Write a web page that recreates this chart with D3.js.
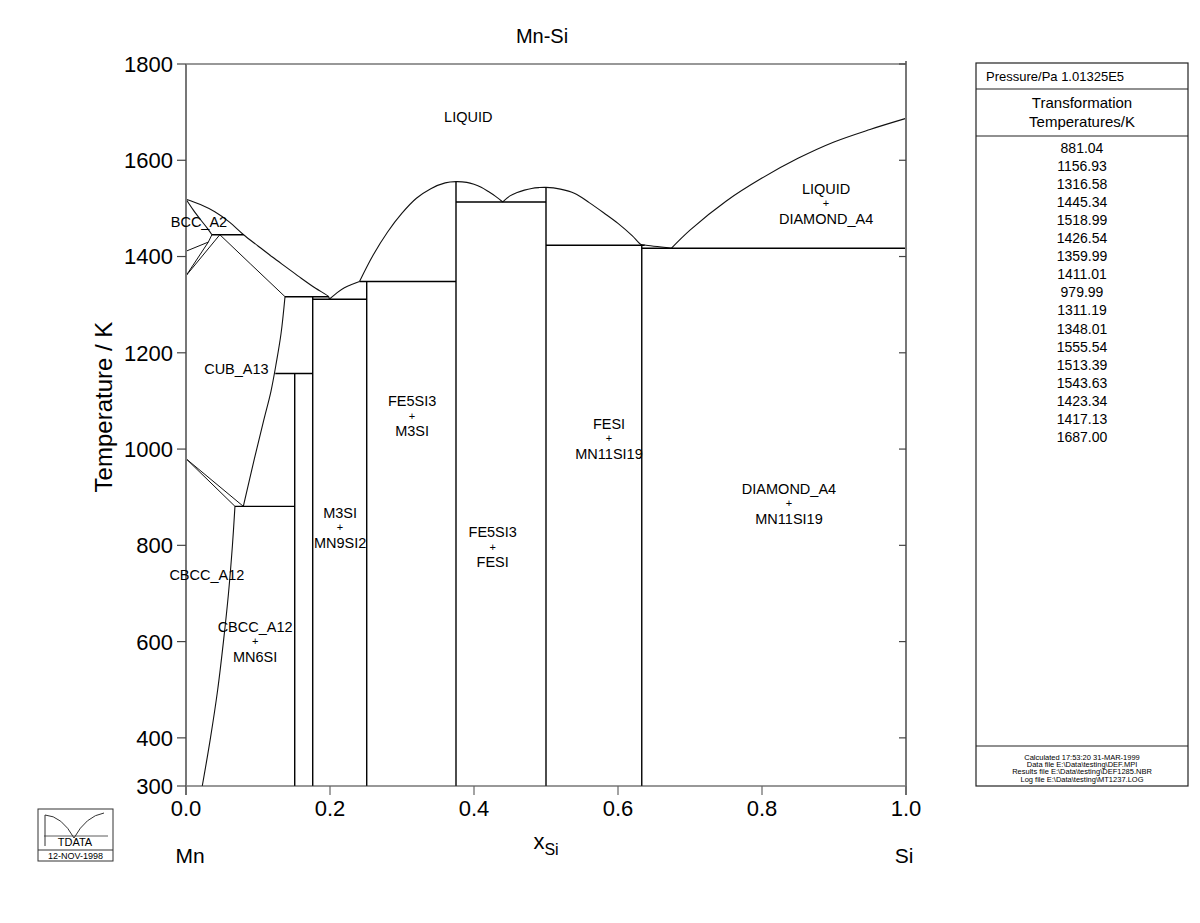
<!DOCTYPE html>
<html><head><meta charset="utf-8">
<script src="https://cdn.jsdelivr.net/npm/d3@7"></script>
<style>
body{margin:0;background:#fff}
svg{display:block}
text{font-family:"Liberation Sans",Arial,Helvetica,sans-serif;fill:#000}
</style>
</head><body>
<svg id="chart" width="1200" height="923"></svg>
<script>
// ---------- DATA ----------
const xTicks = [0, 0.2, 0.4, 0.6, 0.8, 1.0];
const yTicks = [300, 400, 600, 800, 1000, 1200, 1400, 1600, 1800];
const transformationTemps = ["881.04","1156.93","1316.58","1445.34","1518.99","1426.54","1359.99","1411.01","979.99","1311.19","1348.01","1555.54","1513.39","1543.63","1423.34","1417.13","1687.00"];
const footerLines = ["Calculated  17:53:20  31-MAR-1999","Data file  E:\\Data\\testing\\DEF.MPI","Results file  E:\\Data\\testing\\DEF1285.NBR","Log file  E:\\Data\\testing\\MT1237.LOG"];

// phase boundaries [x_Si, T/K]
const liquidusMnSide = [[0,1518.99],[0.02,1508],[0.04,1493],[0.06,1472],[0.08,1445.34],[0.10,1422],[0.12,1399],[0.14,1377],[0.16,1355],[0.18,1334],[0.198,1316.58],[0.199,1311.19]];
const liquidusM3Si = [[0.199,1311.19],[0.21,1325],[0.22,1335],[0.23,1342],[0.241,1348.01]];
const liquidusMn5Si3 = [[0.241,1348.01],[0.26,1403],[0.28,1451],[0.30,1490],[0.32,1521],[0.34,1541],[0.36,1553],[0.375,1555.54],[0.39,1554],[0.40,1550],[0.41,1544],[0.42,1535],[0.43,1525],[0.44,1513.39]];
const liquidusMnSi = [[0.44,1513.39],[0.45,1526],[0.46,1533],[0.47,1538],[0.48,1541.5],[0.49,1543.2],[0.5,1543.63],[0.52,1540],[0.54,1531],[0.56,1512],[0.58,1491],[0.60,1469],[0.62,1443],[0.632,1425],[0.637,1423.8],[0.674,1417.13]];
const liquidusSi = [[0.674,1417.13],[0.70,1455],[0.75,1515],[0.80,1563],[0.85,1604],[0.90,1638],[0.95,1664],[1.0,1687]];
const bccSolidus = [[0,1518.99],[0.01,1497],[0.02,1477],[0.03,1458],[0.036,1445.34]];
const bccBoundary = [[0,1411.01],[0.031,1430],[0.036,1445.34]];
const fccBoundary = [[0,1359.99],[0.031,1430]];
const cubUpper = [[0,1359.99],[0.047,1445.34]];
const cubSolidus = [[0.047,1445.34],[0.09,1384],[0.1375,1316.58]];
const cubLowerA = [[0,979.99],[0.068,881.04]];
const cubLowerB = [[0,979.99],[0.0796,881.04]];
const cbccSolvus = [[0.0226,300],[0.034,400],[0.044,500],[0.052,600],[0.059,700],[0.0645,800],[0.068,881.04]];
const cubSolvus = [[0.0796,881.04],[0.095,980],[0.108,1060],[0.118,1120],[0.1255,1180],[0.132,1240],[0.1375,1316.58]];
// invariant (horizontal) lines: [T, x_from, x_to]
const invariantLines = [[881.04,0.068,0.151],[1156.93,0.124,0.176],[1316.58,0.1375,0.198],[1311.19,0.176,0.251],[1348.01,0.241,0.375],[1445.34,0.036,0.080],[1513.39,0.375,0.5],[1423.34,0.5,0.637],[1417.13,0.633,1.0]];
// stoichiometric compounds: [x_Si, top T]
const compoundLines = [[0.151,1156.93],[0.176,1316.58],[0.251,1348.01],[0.375,1555.54],[0.5,1543.63],[0.633,1423.34]];

// region labels
const singleLabels = [["LIQUID",0.392,1690],["BCC_A2",0.018,1472],["CUB_A13",0.070,1166],["CBCC_A12",0.029,738]];
const twoPhaseLabels = [["CBCC_A12","MN6SI",0.096,600],["M3SI","MN9SI2",0.214,838],["FE5SI3","M3SI",0.314,1069],["FE5SI3","FESI",0.426,797],["FESI","MN11SI19",0.5875,1023],["DIAMOND_A4","MN11SI19",0.8375,888],["LIQUID","DIAMOND_A4",0.889,1511]];

// ---------- DRAW ----------
const svg = d3.select("#chart");
const L = 186, R = 906, T = 64, B = 786;
const x = d3.scaleLinear().domain([0,1]).range([L,R]);
const y = d3.scaleLinear().domain([300,1800]).range([B,T]);

const g = svg.append("g");
const lineGen = d3.line().x(d=>x(d[0])).y(d=>y(d[1])).curve(d3.curveCatmullRom.alpha(0.5));
const straight = d3.line().x(d=>x(d[0])).y(d=>y(d[1]));

[liquidusMnSide, liquidusM3Si, liquidusMn5Si3, liquidusMnSi, liquidusSi, bccSolidus, cbccSolvus, cubSolvus].forEach(c=>{
  g.append("path").attr("d", lineGen(c)).attr("fill","none").attr("stroke","#111").attr("stroke-width",1.1);
});
[bccBoundary, fccBoundary, cubUpper, cubSolidus, cubLowerA, cubLowerB].forEach(c=>{
  g.append("path").attr("d", straight(c)).attr("fill","none").attr("stroke","#111").attr("stroke-width",1);
});
invariantLines.forEach(d=>{
  g.append("path").attr("d", straight([[d[1],d[0]],[d[2],d[0]]])).attr("fill","none").attr("stroke","#000").attr("stroke-width",1.4);
});
compoundLines.forEach(d=>{
  g.append("path").attr("d", straight([[d[0],300],[d[0],d[1]]])).attr("fill","none").attr("stroke","#000").attr("stroke-width",1.4);
});

// frame
svg.append("line").attr("x1",L).attr("x2",R).attr("y1",T).attr("y2",T).attr("stroke","#333").attr("stroke-width",1.2);
svg.append("line").attr("x1",L).attr("x2",R).attr("y1",B).attr("y2",B).attr("stroke","#333").attr("stroke-width",1.2);
svg.append("line").attr("x1",L).attr("x2",L).attr("y1",T).attr("y2",B+9).attr("stroke","#777").attr("stroke-width",2);
svg.append("line").attr("x1",R).attr("x2",R).attr("y1",T-3).attr("y2",B+9).attr("stroke","#777").attr("stroke-width",2);

// y ticks
const yAxis = svg.append("g");
yTicks.forEach(t=>{
  yAxis.append("line").attr("x1",L-9).attr("x2",L).attr("y1",y(t)).attr("y2",y(t)).attr("stroke","#444").attr("stroke-width",1.2);
  if (t !== 300) yAxis.append("line").attr("x1",R-7).attr("x2",R).attr("y1",y(t)).attr("y2",y(t)).attr("stroke","#444").attr("stroke-width",1.2);
  yAxis.append("text").attr("x",L-13).attr("y",y(t)).attr("dy","0.36em").attr("text-anchor","end").style("font-size","22px").text(t);
});
// x ticks
xTicks.forEach(t=>{
  svg.append("line").attr("x1",x(t)).attr("x2",x(t)).attr("y1",B).attr("y2",B+9).attr("stroke","#666").attr("stroke-width",1.2);
  svg.append("text").attr("x",x(t)).attr("y",816).attr("text-anchor","middle").style("font-size","22px").text(d3.format(".1f")(t));
});

// titles
svg.append("text").attr("x",x(0.5)-4).attr("y",43).attr("text-anchor","middle").style("font-size","20px").text("Mn-Si");
svg.append("text").attr("transform",`translate(112,${(T+B)/2-18}) rotate(-90)`).attr("text-anchor","middle").style("font-size","24px").text("Temperature / K");
const xl = svg.append("text").attr("x",x(0.5)).attr("y",849).attr("text-anchor","middle").style("font-size","22px");
xl.append("tspan").text("x");
xl.append("tspan").attr("dy",6).style("font-size","16px").text("Si");
svg.append("text").attr("x",x(0)+4).attr("y",863).attr("text-anchor","middle").style("font-size","21px").text("Mn");
svg.append("text").attr("x",x(1)-2).attr("y",863).attr("text-anchor","middle").style("font-size","21px").text("Si");

// region labels
singleLabels.forEach(d=>{
  svg.append("text").attr("x",x(d[1])).attr("y",y(d[2])).attr("dy","0.35em").attr("text-anchor","middle").style("font-size","14.5px").text(d[0]);
});
twoPhaseLabels.forEach(d=>{
  const cx = x(d[2]), cy = y(d[3]);
  svg.append("text").attr("x",cx).attr("y",cy-14.5).attr("dy","0.35em").attr("text-anchor","middle").style("font-size","14.5px").text(d[0]);
  svg.append("text").attr("x",cx).attr("y",cy).attr("dy","0.35em").attr("text-anchor","middle").style("font-size","11px").text("+");
  svg.append("text").attr("x",cx).attr("y",cy+15.5).attr("dy","0.35em").attr("text-anchor","middle").style("font-size","14.5px").text(d[1]);
});

// right panel
const PL = 976, PR = 1188, PT = 63, PB = 786;
const panel = svg.append("g");
panel.append("rect").attr("x",PL).attr("y",PT).attr("width",PR-PL).attr("height",PB-PT).attr("fill","none").attr("stroke","#222").attr("stroke-width",1.2);
[89,136,746].forEach(v=>panel.append("line").attr("x1",PL).attr("x2",PR).attr("y1",v).attr("y2",v).attr("stroke","#222").attr("stroke-width",1.2));
panel.append("text").attr("x",PL+10).attr("y",76).attr("dy","0.35em").style("font-size","13px").text("Pressure/Pa  1.01325E5");
panel.append("text").attr("x",(PL+PR)/2).attr("y",103).attr("dy","0.35em").attr("text-anchor","middle").style("font-size","15px").text("Transformation");
panel.append("text").attr("x",(PL+PR)/2).attr("y",122).attr("dy","0.35em").attr("text-anchor","middle").style("font-size","15px").text("Temperatures/K");
transformationTemps.forEach((t,i)=>{
  panel.append("text").attr("x",(PL+PR)/2).attr("y",148+i*18.06).attr("dy","0.35em").attr("text-anchor","middle").style("font-size","14px").text(t);
});
footerLines.forEach((t,i)=>{
  panel.append("text").attr("x",(PL+PR)/2).attr("y",757+i*7.3).attr("dy","0.35em").attr("text-anchor","middle").style("font-size","7.5px").text(t);
});

// logo
const lg = svg.append("g");
lg.append("rect").attr("x",38).attr("y",809).attr("width",75).attr("height",52).attr("fill","none").attr("stroke","#333").attr("stroke-width",1);
lg.append("line").attr("x1",38).attr("x2",113).attr("y1",850).attr("y2",850).attr("stroke","#333");
lg.append("path").attr("d","M45,846 L45,815 Q62,816 74,838 Q86,816 104,813").attr("fill","none").attr("stroke","#333").attr("stroke-width",1);
lg.append("line").attr("x1",44).attr("x2",108).attr("y1",836).attr("y2",836).attr("stroke","#333").attr("stroke-width",0.8);
lg.append("text").attr("x",75).attr("y",846).attr("text-anchor","middle").style("font-size","11px").text("TDATA");
lg.append("text").attr("x",75.5).attr("y",859).attr("text-anchor","middle").style("font-size","9px").text("12-NOV-1998");
</script>
</body></html>
